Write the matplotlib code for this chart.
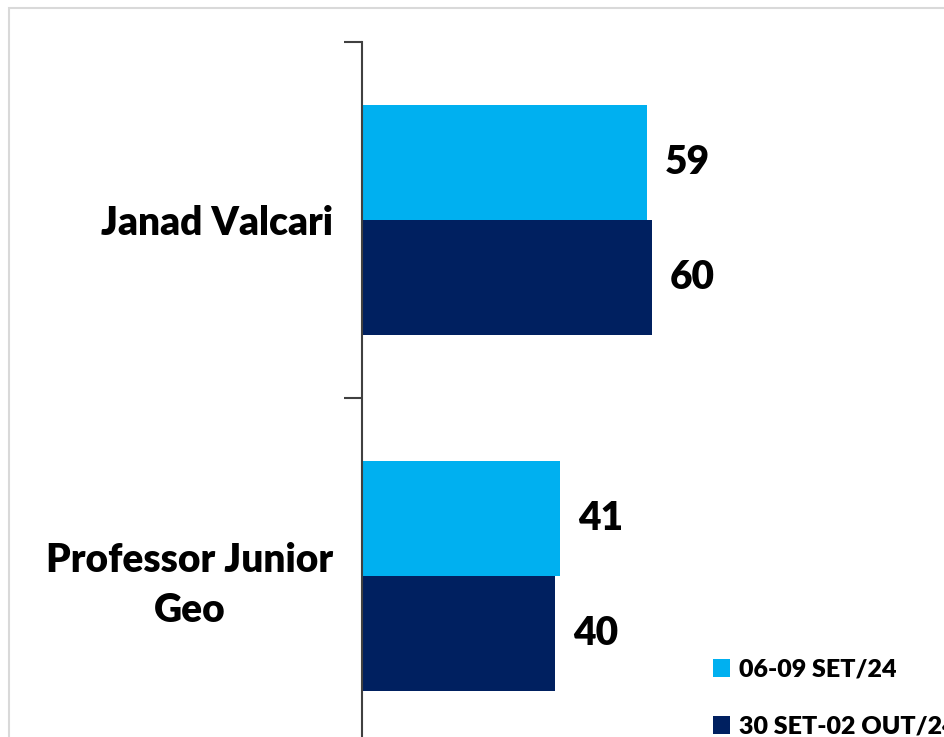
import numpy as np
import matplotlib.pyplot as plt
from matplotlib.patches import Rectangle

candidatos = ["Janad Valcari", "Professor Junior\nGeo"]
rodadas = ["06-09 SET/24", "30 SET-02 OUT/24"]
set_24 = [59, 41]
out_24 = [60, 40]
cores = ["#00B0F0", "#002060"]

plt.rcParams['font.family'] = ['Lato', 'DejaVu Sans']

W, H = 944, 737
fig = plt.figure(figsize=(W / 100, H / 100), dpi=100)

# moldura cinza clara do grafico
fig.patches.append(Rectangle((9 / W, -0.1), 1.2, (H - 8) / H + 0.1, transform=fig.transFigure,
                             fill=False, edgecolor="#d9d9d9", linewidth=1.5))

ax = fig.add_axes([362 / W, -17 / H, 580 / W, 712 / H])
y = np.arange(len(candidatos))
h = 0.323
b1 = ax.barh(y - h / 2, set_24, height=h, color=cores[0], label=rodadas[0])
b2 = ax.barh(y + h / 2, out_24, height=h, color=cores[1], label=rodadas[1])

ax.set_xlim(0, 120)
ax.set_ylim(1.5, -0.5)
ax.set_xticks([])
ax.set_yticks(y)
ax.set_yticklabels(candidatos, fontsize=28, fontweight='heavy', ha='right',
                   multialignment='center', linespacing=1.42)
ax.tick_params(axis='y', which='major', length=0, pad=21)
ax.set_yticks([-0.5, 0.5, 1.5], minor=True)
ax.tick_params(axis='y', which='minor', length=13, width=1.5, color='#404040')
for s in ['top', 'right', 'bottom']:
    ax.spines[s].set_visible(False)
ax.spines['left'].set_color('#404040')
ax.spines['left'].set_linewidth(1.5)

for b in (b1, b2):
    ax.bar_label(b, padding=13, fontsize=28, fontweight='heavy')

fig.legend(handles=[b1, b2], labels=rodadas, loc='upper left',
           bbox_to_anchor=(690 / W, 1 - 636 / H), frameon=False,
           prop={'weight': 'heavy', 'size': 18},
           handlelength=0.7, handleheight=0.7, handletextpad=0.35,
           labelspacing=1.4)

fig.savefig("out.png", dpi=100)
